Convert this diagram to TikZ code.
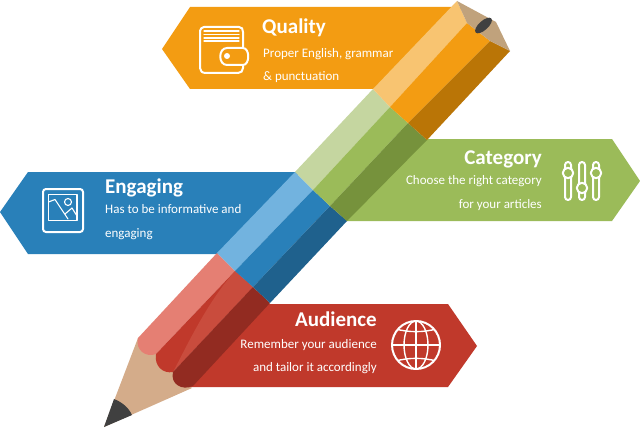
\documentclass[tikz,border=0pt]{standalone}
\usepackage{fontspec}
\setmainfont{Carlito}
\definecolor{orM}{HTML}{F39C12}\definecolor{orL}{HTML}{F8C471}\definecolor{orD}{HTML}{BA7506}
\definecolor{grM}{HTML}{9BBB59}\definecolor{grL}{HTML}{C5D6A0}\definecolor{grD}{HTML}{76923C}
\definecolor{blM}{HTML}{2980B9}\definecolor{blL}{HTML}{72B3DF}\definecolor{blD}{HTML}{1F618D}
\definecolor{reM}{HTML}{C0392B}\definecolor{reL}{HTML}{E57F73}\definecolor{reD}{HTML}{922B21}\definecolor{reH}{HTML}{C94C3D}
\definecolor{wood}{HTML}{D4AC8A}\definecolor{lead}{HTML}{404040}\definecolor{capc}{HTML}{C0A27C}
\tikzset{
 titletxt/.style={text=white,font=\fontsize{21}{23}\selectfont\bfseries,inner sep=0pt},
 bodytxt/.style={text=white,font=\fontsize{13}{15}\selectfont,inner sep=0pt},
 icon/.style={draw=white,line width=2pt,line cap=round,line join=round},
 thin icon/.style={draw=white,line width=1.1pt,line join=round,line cap=round}
}
\begin{document}
\begin{tikzpicture}[x=1pt,y=-1pt]
\useasboundingbox (0,0) rectangle (640,428);
\fill[white] (0,0) rectangle (640,428);
% banners
\fill[orM] (162,49)--(190,7)--(462,7)--(400,89)--(190,89)--cycle;
\fill[blM] (0,212)--(28,172)--(300,172)--(240,254)--(28,254)--cycle;
\fill[grM] (640,181)--(612,139)--(420,139)--(340,221)--(612,221)--cycle;
\fill[reM] (477,346)--(448,304)--(265,304)--(185,387)--(448,387)--cycle;
% wood and lead
\fill[wood] (138,338)--(104,427)--(192,388)--cycle;
\fill[lead] (114,399) .. controls (122,402) and (129,408) .. (132,415)--(104,427)--cycle;
% red section
\fill[reL] (217,253)--(235,271)--(156,354) .. controls (146,358) and (135,350) .. (138,338)--cycle;
\fill[reM] (235,271)--(253,287)--(173,372) .. controls (163,374) and (154,366) .. (156,354)--cycle;
\fill[reH] (235,271)--(253,287)--(173,372) .. controls (185,350) and (205,305) .. (235,271)--cycle;
\fill[reD] (253,287)--(270,303)--(193,386) .. controls (182,391) and (170,384) .. (173,372)--cycle;
% blue section
\fill[blL] (295,172)--(313,190)--(235,271)--(217,253)--cycle;
\fill[blM] (313,190)--(330,206)--(253,287)--(235,271)--cycle;
\fill[blD] (330,206)--(347,221)--(270,303)--(253,287)--cycle;
% green section
\fill[grL] (373,89)--(390,107)--(313,190)--(295,172)--cycle;
\fill[grM] (390,107)--(408,123)--(330,206)--(313,190)--cycle;
\fill[grD] (408,123)--(427,140)--(347,221)--(330,206)--cycle;
% orange section
\fill[orL] (457,1)--(467,23)--(390,107)--(373,89)--cycle;
\fill[orM] (467,23)--(490,41)--(408,123)--(390,107)--cycle;
\fill[orD] (490,41)--(510,51)--(427,140)--(408,123)--cycle;
% cap
\fill[capc] (457,1)--(496,22)--(510,51)--(490,41)--(467,23)--cycle;
\fill[lead] (483.5,25.5) ellipse[x radius=10.5,y radius=4.6,rotate=42];
% wallet icon
\draw[icon] (204,27) -- (239,27) .. controls (242,27) and (243,29) .. (243,32) -- (243,48);
\draw[icon] (243,65) -- (243,68) .. controls (243,71) and (241,73) .. (238,73) -- (206,73) .. controls (202,73) and (200,71) .. (200,68) -- (200,31) .. controls (200,29) and (202,27) .. (204,27);
\draw[thin icon] (204,31)--(239,31) (204,34.5)--(239,34.5) (204,38)--(239,38) (204,41)--(239,41);
\draw[icon] (227,48) -- (243,48) .. controls (250,48) and (250,65) .. (243,65) -- (227,65) .. controls (218,65) and (218,48) .. (227,48) -- cycle;
\fill[white] (227,56) circle[radius=3];
% picture icon
\draw[icon,rounded corners=3pt] (43,189) rectangle (83,232);
\draw[thin icon] (48.5,194.5) rectangle (77,220.5);
\draw[thin icon] (48.5,202) -- (55,199.5) -- (68,219) (65,214) -- (72,208) -- (77,216);
\draw[thin icon] (68,202) circle[radius=3.5];
% sliders icon
\foreach \sx/\ky in {568/173,582/188,596/173}{
 \draw[icon,rounded corners=3pt] (\sx-3,162) rectangle (\sx+3,200);
 \draw[icon,fill=grM] (\sx,\ky) circle[radius=5.2];
}
% globe icon
\begin{scope}[shift={(416,345)}]
 \clip (0,0) circle[radius=24];
 \draw[thin icon,line width=1.4pt] (0,0) ellipse[x radius=12,y radius=24];
 \draw[thin icon,line width=1.4pt] (0,-24)--(0,24) (-24,0)--(24,0);
 \draw[thin icon,line width=1.4pt] (-20,-16) .. controls (-8,-12.5) and (8,-12.5) .. (20,-16);
 \draw[thin icon,line width=1.4pt] (-20,16) .. controls (-8,12.5) and (8,12.5) .. (20,16);
\end{scope}
\draw[icon] (416,345) circle[radius=24];
% texts
\node[titletxt,anchor=base west] (qt) at (262,34) {Quality};
\node[bodytxt,anchor=base west] (qb1) at (263,58) {Proper English, grammar};
\node[bodytxt,anchor=base west] (qb2) at (263,81) {\& punctuation};
\node[titletxt,anchor=base west] (et) at (105,193) {Engaging};
\node[bodytxt,anchor=base west] (eb1) at (105,213) {Has to be informative and};
\node[bodytxt,anchor=base west] (eb2) at (105,237) {engaging};
\node[titletxt,anchor=base east] (ct) at (542,164) {Category};
\node[bodytxt,anchor=base east] (cb1) at (542,184) {Choose the right category};
\node[bodytxt,anchor=base east] (cb2) at (542,208) {for your articles};
\node[titletxt,anchor=base east] (at) at (377,326) {Audience};
\node[bodytxt,anchor=base east] (ab1) at (377,348) {Remember your audience};
\node[bodytxt,anchor=base east] (ab2) at (377,371) {and tailor it accordingly};
\end{tikzpicture}
\end{document}
